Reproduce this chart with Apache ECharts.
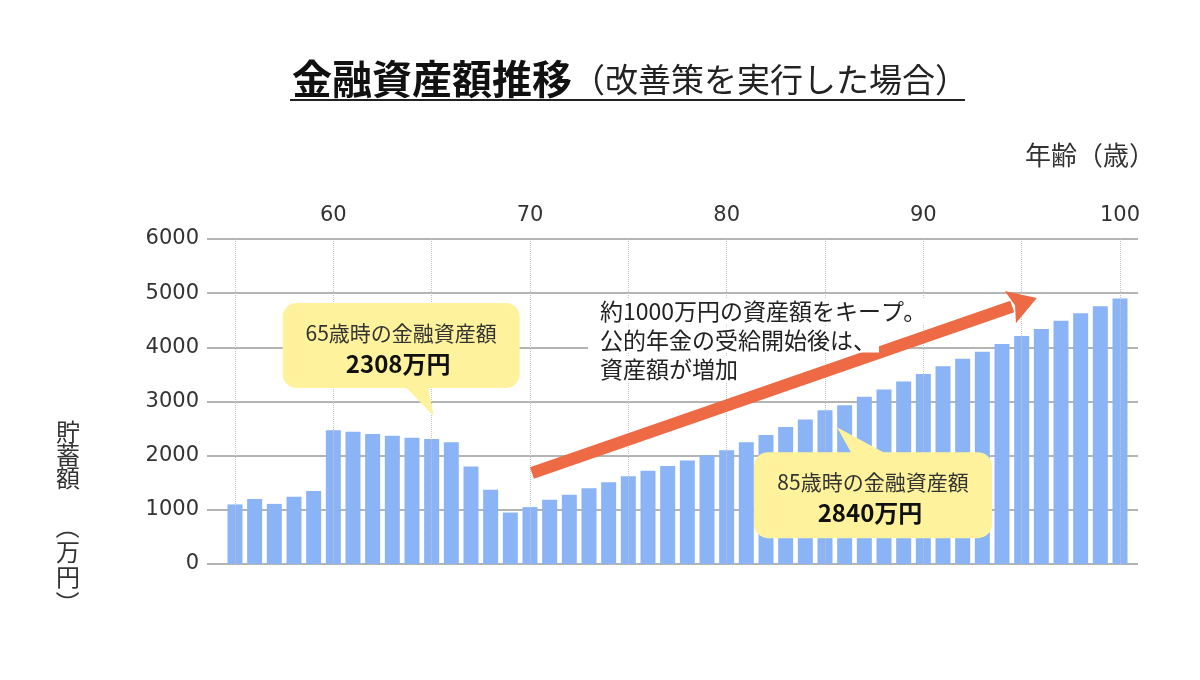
<!DOCTYPE html>
<html>
<head>
<meta charset="utf-8">
<script src="https://cdn.jsdelivr.net/npm/echarts@6/dist/echarts.min.js"></script>
<style>
html,body{margin:0;padding:0;background:#fff;}
#chart{width:1200px;height:680px;}
</style>
</head>
<body>
<div id="chart"></div>
<script>
// ---- data ----
const ages = [55,56,57,58,59,60,61,62,63,64,65,66,67,68,69,70,71,72,73,74,75,76,77,78,79,80,81,82,83,84,85,86,87,88,89,90,91,92,93,94,95,96,97,98,99,100];
const assets = [1100,1200,1110,1240,1350,2470,2440,2400,2370,2330,2308,2250,1800,1370,950,1050,1185,1280,1400,1510,1620,1720,1810,1910,2010,2100,2250,2380,2530,2670,2840,2930,3090,3220,3370,3510,3650,3790,3920,4060,4210,4340,4490,4630,4760,4900];
const xTickLabels = [60,70,80,90,100];
const gridAges = [55,60,65,70,75,80,85,90,95,100];
const calloutAges = [65,85];
const arrowFrom = [70.1,1680];
const arrowTip = [95.77,4911];
const titleMain = '金融資産額推移';
const titleSub = '（改善策を実行した場合）';
const xName = '年齢（歳）';
const yNameChars = ['貯','蓄','額','（','万','円','）'];
const noteLines = ['約1000万円の資産額をキープ。','公的年金の受給開始後は、','資産額が増加'];

const JP = '"Noto Sans CJK JP", "Noto Sans", sans-serif';
const chart = echarts.init(document.getElementById('chart'), null, {renderer:'canvas'});

const barData = ages.map((a,i)=>[a, assets[i]]);

chart.setOption({
  animation:false,
  backgroundColor:'#fff',
  grid:{left:207, right:62, top:239, bottom:116},
  xAxis:{
    type:'value', position:'top', min:53.577, max:100.915,
    axisLine:{show:false},
    axisTick:{show:true, customValues:xTickLabels, length:7, lineStyle:{color:'#999', width:1}},
    axisLabel:{customValues:xTickLabels, margin:13, fontSize:21, color:'#333', fontFamily:'DejaVu Sans', formatter:v=>String(v)},
    splitLine:{show:false}
  },
  yAxis:{
    type:'value', min:0, max:6000, interval:1000,
    axisLine:{show:false}, axisTick:{show:false},
    axisLabel:{margin:8, fontSize:21, color:'#333', fontFamily:'DejaVu Sans', formatter:v=>String(v)},
    splitLine:{show:true, lineStyle:{color:'#b4b4b4', width:2}}
  },
  series:[
    {
      type:'line', data:[], z:1, silent:true,
      markLine:{silent:true, symbol:'none', label:{show:false},
        lineStyle:{type:'dotted', color:'#c4c4c4', width:1},
        data: gridAges.map(a=>({xAxis:a}))}
    },
    {
      type:'bar', data:barData, barWidth:15, z:3,
      itemStyle:{color:'#8AB4F5'}
    }
  ]
});

function px(age){
  const i = ages.indexOf(age);
  return chart.convertToPixel({seriesIndex:1}, [age, assets[i]]);
}
const p1 = px(calloutAges[0]);
const p2 = px(calloutAges[1]);
const v1 = assets[ages.indexOf(calloutAges[0])];
const v2 = assets[ages.indexOf(calloutAges[1])];
const YEL = '#FEF29C';

function callout(p, rect, tail, age, val){
  const cx = p[0] + rect[0] + rect[2]/2;
  const top = p[1] + rect[1];
  return [
    {type:'polygon', z:100, shape:{points:tail.map(t=>[p[0]+t[0], p[1]+t[1]])}, style:{fill:YEL}},
    {type:'rect', z:100, shape:{x:p[0]+rect[0], y:top, width:rect[2], height:rect[3], r:14}, style:{fill:YEL}},
    {type:'text', z:101, x:cx, y:top+30, style:{text:age+'歳時の金融資産額', font:'21px '+JP, fill:'#333', align:'center', verticalAlign:'middle'}},
    {type:'text', z:101, x:cx-3, y:top+61, style:{text:val+'万円', font:'bold 24px '+JP, fill:'#111', align:'center', verticalAlign:'middle'}}
  ];
}

// arrow (from data coordinates)
const a0 = chart.convertToPixel({seriesIndex:1}, arrowFrom);
const a1 = chart.convertToPixel({seriesIndex:1}, arrowTip);
const dx = a1[0]-a0[0], dy = a1[1]-a0[1], L = Math.hypot(dx,dy);
const ux = dx/L, uy = dy/L, nx = -uy, ny = ux;
const headLen = 28, headHalf = 17, bodyHalf = 6;
const hb = [a1[0]-ux*headLen, a1[1]-uy*headLen];
const ARROW = '#EE6A45';

const graphics = [
  {type:'polygon', z:90, shape:{points:[
    [a0[0]+nx*bodyHalf, a0[1]+ny*bodyHalf],
    [hb[0]+ux*2+nx*bodyHalf, hb[1]+uy*2+ny*bodyHalf],
    [hb[0]+ux*2-nx*bodyHalf, hb[1]+uy*2-ny*bodyHalf],
    [a0[0]-nx*bodyHalf, a0[1]-ny*bodyHalf]
  ]}, style:{fill:ARROW}},
  {type:'polygon', z:90, shape:{points:[
    [a1[0], a1[1]],
    [hb[0]+nx*headHalf, hb[1]+ny*headHalf],
    [hb[0]+ux*5, hb[1]+uy*5],
    [hb[0]-nx*headHalf, hb[1]-ny*headHalf]
  ]}, style:{fill:ARROW}},
  {type:'text', z:100, x:292, y:79, style:{
    text:'{b|'+titleMain+'}{n|'+titleSub+'}',
    verticalAlign:'middle',
    rich:{b:{fontFamily:JP, fontSize:40, fontWeight:'bold', fill:'#111'}, n:{fontFamily:JP, fontSize:33, fill:'#222'}}
  }},
  {type:'line', z:100, shape:{x1:290,y1:100,x2:965,y2:100}, style:{stroke:'#222', lineWidth:2}},
  {type:'text', z:100, x:1025, y:155, style:{text:xName, font:'26px '+JP, fill:'#333', verticalAlign:'middle'}},
];
// vertical y-axis name: upright chars, parentheses rotated
const yNameY = [432,455,478,527,552,577,603];
yNameChars.forEach((c,i)=>{
  const isParen = (c==='（'||c==='）');
  graphics.push({type:'text', z:100, x:68, y:yNameY[i], rotation: isParen ? -Math.PI/2 : 0,
    style:{text:c, font:'24px '+JP, fill:'#333', align:'center', verticalAlign:'middle'}});
});
noteLines.forEach((t,i)=>{
  graphics.push({type:'text', z:100, x:588, y:311+i*29, style:{text:t, font:'23px '+JP, fill:'#222', verticalAlign:'middle', backgroundColor:'#fff', padding:[1,3,1,12]}});
});
graphics.push(...callout(p1, [-149,-136,237,85], [[-27,-53],[-4,-53],[2,-23]], calloutAges[0], v1));
graphics.push(...callout(p2, [-71,42,238,86], [[12,17],[27,44],[62,44]], calloutAges[1], v2));

chart.setOption({graphic: graphics});
</script>
</body>
</html>
